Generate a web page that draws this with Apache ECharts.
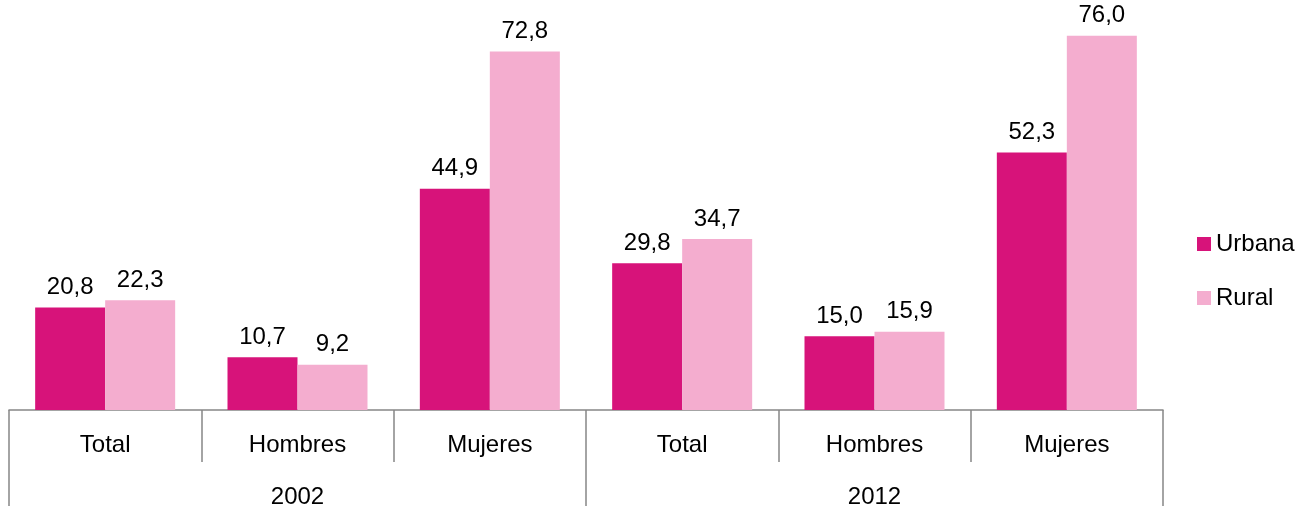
<!DOCTYPE html>
<html>
<head>
<meta charset="utf-8">
<script src="https://cdn.jsdelivr.net/npm/echarts@6/dist/echarts.min.js"></script>
<style>
  html, body { margin: 0; padding: 0; background: #fff; }
  #chart { width: 1304px; height: 506px; }
</style>
</head>
<body>
<div id="chart"></div>
<script>
const categories = ['Total', 'Hombres', 'Mujeres', 'Total', 'Hombres', 'Mujeres']
const years = ['2002', '2012']
const urbana = [20.8, 10.7, 44.9, 29.8, 15.0, 52.3]
const rural = [22.3, 9.2, 72.8, 34.7, 15.9, 76.0]

const font = 'Liberation Sans'
const axisGray = '#868686'
const fs = 24

const chart = echarts.init(document.getElementById('chart'))

const fmt = (p) => p.value.toFixed(1).replace('.', ',')

chart.setOption({
  animation: false,
  textStyle: { fontFamily: font },
  grid: { left: 9, right: 141, top: 16, bottom: 96, containLabel: false, outerBoundsMode: 'none' },
  legend: {
    orient: 'vertical',
    left: 1192,
    top: 227,
    itemWidth: 14,
    itemHeight: 14,
    itemGap: 30,
    icon: 'rect',
    textStyle: { fontFamily: font, fontSize: fs, color: '#000' },
    data: ['Urbana', 'Rural'],
  },
  xAxis: [
    {
      type: 'category',
      data: categories,
      position: 'bottom',
      axisLine: { show: true, lineStyle: { color: axisGray, width: 1.5 } },
      axisTick: { show: true, length: 52, lineStyle: { color: axisGray, width: 1.5 } },
      axisLabel: { fontFamily: font, fontSize: fs, color: '#000', margin: 23 },
    },
    {
      type: 'category',
      data: years,
      position: 'bottom',
      axisLine: { show: false },
      axisTick: { show: true, length: 100, lineStyle: { color: axisGray, width: 1.5 } },
      axisLabel: { fontFamily: font, fontSize: fs, color: '#000', margin: 75 },
    },
  ],
  yAxis: {
    type: 'value',
    min: 0,
    max: 80,
    show: false,
    splitLine: { show: false },
  },
  series: [
    {
      name: 'Urbana',
      type: 'bar',
      xAxisIndex: 0,
      data: urbana,
      barWidth: 70,
      barGap: '0%',
      itemStyle: { color: '#D7137A' },
      label: { show: true, position: 'top', distance: 8, fontFamily: font, fontSize: fs, color: '#000', formatter: fmt },
    },
    {
      name: 'Rural',
      type: 'bar',
      xAxisIndex: 0,
      data: rural,
      barWidth: 70,
      barGap: '0%',
      itemStyle: { color: '#F4ADCF' },
      label: { show: true, position: 'top', distance: 8, fontFamily: font, fontSize: fs, color: '#000', formatter: fmt },
    },
  ],
})
</script>
</body>
</html>
